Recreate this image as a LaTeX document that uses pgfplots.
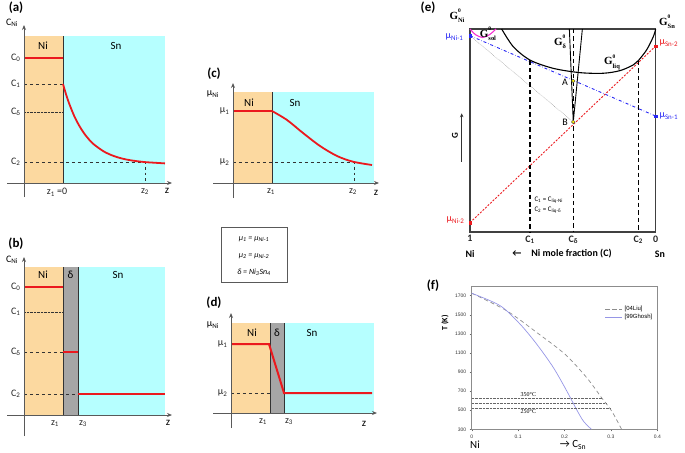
\documentclass[border=0pt]{standalone}
\usepackage{pgfplots}
\pgfplotsset{compat=1.18}
\usepackage{fontspec}
\setmainfont{Carlito}
\newfontfamily\serif{Liberation Serif}
\newfontfamily\arial{Liberation Sans}
\usetikzlibrary{arrows.meta}
\definecolor{niorange}{RGB}{252,217,160}
\definecolor{sncyan}{RGB}{182,255,255}
\definecolor{dgray}{RGB}{166,166,166}
\definecolor{myred}{RGB}{235,25,30}
\definecolor{myblue}{RGB}{40,40,245}
\definecolor{mymag}{RGB}{245,50,210}
\definecolor{ghosh}{RGB}{150,150,230}
\newcommand{\fs}[1]{\fontsize{#1}{#1}\selectfont}
\newcommand{\Gl}[1]{{\serif\bfseries\fs{11}G}\rlap{\raisebox{6.5pt}{\serif\bfseries\fs{5.5}0}}\raisebox{-3.5pt}{\serif\bfseries\fs{6.5}#1}}
\pgfplotsset{
  schem/.style={scale only axis, axis lines*=middle, axis on top, clip=false,
    anchor=origin,
    axis line style={draw=black!65, line width=0.9pt, -{Stealth[length=5pt,width=4pt]}},
    major tick length=0pt,
    tick label style={font=\fs{10}, text=black!85},
    xticklabel style={yshift=-2pt},
  }
}
\begin{document}
\begin{tikzpicture}[x=1bp,y=1bp]
\path[use as bounding box] (0,0) rectangle (685,-453);

% ---------------- (a)
\begin{axis}[schem, at={(24bp,-183bp)}, width=165bp, height=172bp,
  xmin=-17, xmax=148, ymin=-14, ymax=158,
  xtick={33,121}, xticklabels={z\textsubscript{1} =0, z\textsubscript{2}},
  ytick={21,71,99,125}, yticklabels={C\textsubscript{2},C\textsubscript{δ},C\textsubscript{1},C\textsubscript{0}}]
\fill[niorange] (axis cs:0,0) rectangle (axis cs:39,147);
\fill[sncyan] (axis cs:39,0) rectangle (axis cs:141,147);
\draw[black!80, line width=0.8pt] (axis cs:39,0) -- (axis cs:39,147);
\addplot[black!80, dashed, thin] coordinates {(0,99)(39,99)};
\addplot[black!80, densely dotted, thin] coordinates {(0,71)(39,71)};
\addplot[black!80, dashed, thin] coordinates {(0,21)(121,21)(121,0)};
\addplot[myred, line width=2pt] coordinates {(0,125)(39,125)};
\addplot[myred, line width=1.8pt, smooth] coordinates {(39,99)(42,88.8)(45,79.9)(50,67.5)(55,57.7)(60,49.8)(65,43.5)(70,38.5)(80,31.4)(90,26.9)(100,24.0)(110,22.2)(121,20.9)(130,20.3)(141,19.6)};
\node[font=\fs{11}] at (axis cs:19,137) {Ni};
\node[font=\fs{11}] at (axis cs:92,137) {Sn};
\end{axis}

% ---------------- (b)
\begin{axis}[schem, at={(24bp,-415bp)}, width=165bp, height=179bp,
  xmin=-17, xmax=148, ymin=-21, ymax=158,
  xtick={31,59}, xticklabels={z\textsubscript{1}, z\textsubscript{3}},
  ytick={21,63,103,128}, yticklabels={C\textsubscript{2},C\textsubscript{δ},C\textsubscript{1},C\textsubscript{0}}]
\fill[niorange] (axis cs:0,0) rectangle (axis cs:39,148);
\fill[dgray] (axis cs:39,0) rectangle (axis cs:54,148);
\fill[sncyan] (axis cs:54,0) rectangle (axis cs:141,148);
\draw[black!80, line width=0.8pt] (axis cs:39,0) -- (axis cs:39,148);
\draw[black!80, line width=0.8pt] (axis cs:54,0) -- (axis cs:54,148);
\addplot[black!80, densely dotted, thin] coordinates {(0,103)(39,103)};
\addplot[black!80, dashed, thin] coordinates {(0,63)(39,63)};
\addplot[black!80, dashed, thin] coordinates {(0,21)(54,21)};
\addplot[myred, line width=2pt] coordinates {(0,128)(39,128)};
\addplot[myred, line width=2pt] coordinates {(39,63)(54,63)};
\addplot[myred, line width=2pt] coordinates {(54,21)(141,21)};
\node[font=\fs{11}] at (axis cs:19,140) {Ni};
\node[font=\fs{11}] at (axis cs:46.5,140) {δ};
\node[font=\fs{11}] at (axis cs:94,140) {Sn};
\end{axis}

% ---------------- (c)
\begin{axis}[schem, at={(233bp,-183bp)}, width=166bp, height=115bp,
  xmin=-20, xmax=146, ymin=-15, ymax=100,
  xtick={38,120}, xticklabels={z\textsubscript{1}, z\textsubscript{2}},
  ytick={21,72}, yticklabels={μ\textsubscript{2},μ\textsubscript{1}}]
\fill[niorange] (axis cs:0,0) rectangle (axis cs:39,91);
\fill[sncyan] (axis cs:39,0) rectangle (axis cs:141,91);
\draw[black!80, line width=0.8pt] (axis cs:39,0) -- (axis cs:39,91);
\addplot[black!80, dashed, thin] coordinates {(0,21)(121,21)(121,0)};
\addplot[myred, line width=2pt] coordinates {(0,72)(39,72)};
\addplot[myred, line width=1.8pt, smooth] coordinates {(39,72)(54,63)(70,50)(87,37)(104,27)(120,21.3)(139,18)};
\node[font=\fs{11}] at (axis cs:16,80) {Ni};
\node[font=\fs{11}] at (axis cs:62,80) {Sn};
\end{axis}

% ---------------- (d)
\begin{axis}[schem, at={(231bp,-413bp)}, width=164bp, height=115bp,
  xmin=-18, xmax=146, ymin=-15, ymax=100,
  xtick={32,58}, xticklabels={z\textsubscript{1}, z\textsubscript{3}},
  ytick={20,69}, yticklabels={μ\textsubscript{2},μ\textsubscript{1}}]
\fill[niorange] (axis cs:0,0) rectangle (axis cs:39,90);
\fill[dgray] (axis cs:39,0) rectangle (axis cs:53,90);
\fill[sncyan] (axis cs:53,0) rectangle (axis cs:143,90);
\draw[black!80, line width=0.8pt] (axis cs:39,0) -- (axis cs:39,90);
\draw[black!80, line width=0.8pt] (axis cs:53,0) -- (axis cs:53,90);
\addplot[black!80, dashed, thin] coordinates {(0,20)(39,20)};
\addplot[myred, line width=2pt] coordinates {(0,69)(38,69)(53,20)(141,20)};
\node[font=\fs{11}] at (axis cs:21,80) {Ni};
\node[font=\fs{11}] at (axis cs:46,80) {δ};
\node[font=\fs{11}] at (axis cs:81,80) {Sn};
\end{axis}

% ---------------- labels for (a)-(d)
\node[font=\bfseries\fs{13}] at (16,-8) {(a)};
\node[font=\fs{10}] at (12,-23) {C\textsubscript{Ni}};
\node[font=\fs{11}] at (167,-191) {z};
\node[font=\bfseries\fs{13}] at (16,-244) {(b)};
\node[font=\fs{10}] at (12,-260) {C\textsubscript{Ni}};
\node[font=\fs{11}] at (168,-423) {z};
\node[font=\bfseries\fs{13}] at (214,-74) {(c)};
\node[font=\fs{10}] at (213,-94) {μ\textsubscript{Ni}};
\node[font=\fs{11}] at (376,-193) {z};
\node[font=\bfseries\fs{13}] at (214,-303) {(d)};
\node[font=\fs{10}] at (213,-325) {μ\textsubscript{Ni}};
\node[font=\fs{11}] at (364,-424) {z};

% text box
\draw[black!65, line width=0.8pt] (221,-227) rectangle (287,-282);
\node[font=\itshape\fs{8}] at (254,-239) {μ\textsubscript{1} = μ\textsubscript{Ni-1}};
\node[font=\itshape\fs{8}] at (254,-256) {μ\textsubscript{2} = μ\textsubscript{Ni-2}};
\node[font=\itshape\fs{8}] at (254,-272) {δ = Ni\textsubscript{3}Sn\textsubscript{4}};

% ---------------- (e)
\begin{axis}[scale only axis, at={(470bp,-232bp)}, anchor=south west,
  width=185.7bp, height=203bp, xmin=0, xmax=1, ymin=0, ymax=1, clip=false,
  axis line style={line width=1.5pt, black!75},
  xtick={0,0.323,0.556,0.906,1},
  xticklabels={1,C\textsubscript{1},C\textsubscript{δ},C\textsubscript{2},0},
  ytick=\empty, major tick length=0pt,
  xticklabel style={font=\bfseries\fs{10}, text=black!85}]
\addplot[black!60, densely dotted, thin] coordinates {(0,0.967)(0.556,0.542)};
\addplot[myblue, dash dot, line width=0.9pt] coordinates {(0,0.967)(1,0.571)};
\addplot[myred, line width=0.9pt, dash pattern=on 2pt off 1.5pt] coordinates {(0,0.046)(1,0.916)};
\addplot[black, line width=1.1pt, dash pattern=on 4.5pt off 3pt] coordinates {(0.323,0.847)(0.323,0)};
\addplot[black, line width=1.1pt, dash pattern=on 4.5pt off 3pt] coordinates {(0.906,0.844)(0.906,0)};
\addplot[black, line width=1.1pt, dash pattern=on 4.5pt off 3pt] coordinates {(0.556,1)(0.556,0)};
\addplot[black, line width=1.1pt, smooth] coordinates {(0.1705,1.0)(0.233,0.913)(0.323,0.847)(0.449,0.806)(0.592,0.785)(0.718,0.782)(0.808,0.795)(0.879,0.823)(0.906,0.844)(0.951,0.897)(0.987,0.962)(1,1)};
\addplot[mymag, line width=1.1pt, smooth] coordinates {(0,1)(0.03,0.972)(0.068,0.958)(0.105,0.972)(0.14,1)};
\addplot[black, line width=0.9pt] coordinates {(0.535,1)(0.556,0.542)(0.605,1)};
\addplot[only marks, mark=square*, mark size=1.3pt, myblue] coordinates {(0,0.967)(1,0.571)};
\addplot[only marks, mark=square*, mark size=1.3pt, myred] coordinates {(0,0.046)(1,0.916)};
\addplot[only marks, mark=*, mark size=1.8pt, fill=yellow, draw=black!70] coordinates {(0.556,0.744)(0.556,0.542)};
\end{axis}
\node[font=\bfseries\fs{13}] at (428,-8) {(e)};
\node at (457,-16) {\Gl{Ni}};
\node at (667,-22) {\Gl{Sn}};
\node at (488,-34) {\Gl{sol}};
\node at (560,-42) {\Gl{δ}};
\node at (612,-62) {\Gl{liq}};
\node[font=\fs{10}, text=myblue, anchor=east] at (467,-37) {μ\textsubscript{Ni-1}};
\node[font=\fs{10}, text=myred, anchor=east] at (468,-220) {μ\textsubscript{Ni-2}};
\node[font=\fs{10}, text=myred, anchor=west] at (656,-43) {μ\textsubscript{Sn-2}};
\node[font=\fs{10}, text=myblue, anchor=west] at (656,-116) {μ\textsubscript{Sn-1}};
\node[font=\fs{10}] at (565,-82) {A};
\node[font=\fs{10}] at (565,-122) {B};
\draw[black!80, line width=0.8pt, -{Stealth[length=4pt,width=3.5pt]}] (461.7,-161.7) -- (461.7,-113.3);
\node[font=\bfseries\fs{9}, rotate=90] at (455,-136) {G};
\node[font=\fs{7}, anchor=west] at (531,-200) {C\textsubscript{1} = C\textsubscript{liq-Ni}};
\node[font=\fs{7}, anchor=west] at (531,-210) {C\textsubscript{2} = C\textsubscript{liq-δ}};
\node[font=\bfseries\fs{10}] at (470,-254) {Ni};
\node[font=\bfseries\fs{10}] at (562,-254) {←\quad Ni mole fraction (C)};
\node[font=\bfseries\fs{10}] at (660,-254) {Sn};

% ---------------- (f)
\begin{axis}[scale only axis, at={(471.7bp,-429.3bp)}, anchor=south west,
  width=185.6bp, height=143.3bp, xmin=0, xmax=0.4, ymin=300, ymax=1800,
  axis line style={black!45, line width=0.8pt},
  xtick={0,0.1,0.2,0.3,0.4}, ytick={300,500,700,900,1100,1300,1500,1700},
  tick align=outside, major tick length=2pt, tick style={black!60},
  xtick pos=bottom, ytick pos=left,
  /pgf/number format/assume math mode=true, /pgf/number format/1000 sep={},
  tick label style={font=\arial\fs{5}, text=black!80},
  legend style={at={(0.99,0.88)}, anchor=north east, draw=none, fill=none,
    font=\arial\fs{6}, row sep=-2pt, inner sep=1pt},
  legend cell align=left]
\addplot[black!45, line width=0.7pt, dash pattern=on 4pt off 3pt, smooth] coordinates {(0,1724)(0.075,1542)(0.14,1314)(0.201,1086)(0.248,840)(0.28,630)(0.302,489)(0.323,300)};
\addlegendentry{[04Liu]}
\addplot[ghosh, line width=0.7pt, smooth] coordinates {(0,1724)(0.061,1595)(0.104,1402)(0.14,1192)(0.176,946)(0.205,700)(0.226,507)(0.241,384)(0.258,300)};
\addlegendentry{[99Ghosh]}
\addplot[black!60, densely dotted, thin, forget plot] coordinates {(0,623)(0.282,623)};
\addplot[black!60, densely dotted, thin, forget plot] coordinates {(0,573)(0.291,573)};
\addplot[black!60, densely dotted, thin, forget plot] coordinates {(0,523)(0.300,523)};
\node[font=\serif\fs{6}] at (axis cs:0.122,660) {350°C};
\node[font=\serif\fs{6}] at (axis cs:0.122,482) {250°C};
\end{axis}
\node[font=\bfseries\fs{13}] at (433,-286) {(f)};
\node[font=\bfseries\fs{8}, rotate=90] at (445,-323) {T (K)};
\node[font=\fs{11}] at (475,-445) {Ni};
\node[font=\fs{11}] at (573,-445) {→ C\textsubscript{Sn}};
\end{tikzpicture}
\end{document}
